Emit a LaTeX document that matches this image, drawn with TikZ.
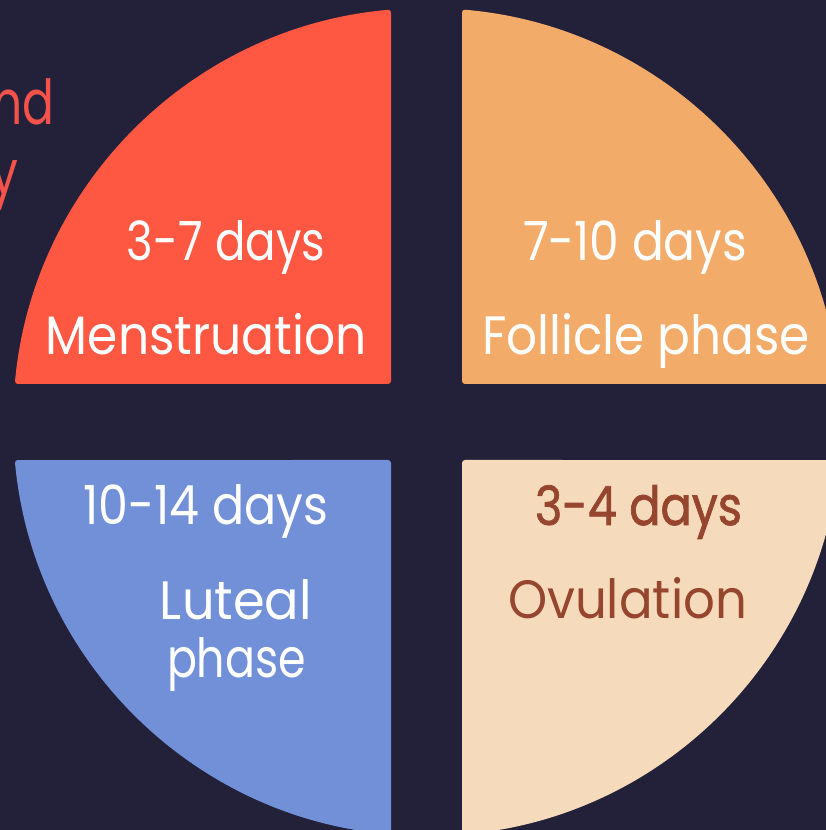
\documentclass[tikz,border=0pt]{standalone}
\usepackage{fontspec}
\setmainfont{Poppins}
\newfontfamily\semib{Poppins}[FakeBold=1.4]
\usepackage{graphicx}
\definecolor{bgc}{HTML}{23213A}
\definecolor{redc}{HTML}{FF5842}
\definecolor{orc}{HTML}{F3AB6A}
\definecolor{crc}{HTML}{F5DBBB}
\definecolor{blc}{HTML}{7290D8}
\definecolor{brc}{HTML}{96452F}
\definecolor{rtc}{HTML}{F4524B}
\newcommand\fitw[2]{\resizebox{#1pt}{\height}{#2}}
\tikzset{
  lbl/.style={inner sep=0pt, anchor=base, text=white, font=\fontsize{54}{60}\selectfont},
  cut/.style={inner sep=0pt, anchor=base east, text=rtc, font=\fontsize{62}{68}\selectfont},
  piece/.style={rounded corners=3pt}
}
\begin{document}
\begin{tikzpicture}[x=1pt,y=1pt]
\useasboundingbox (0,0) rectangle (826,830);
\fill[bgc] (0,0) rectangle (826,830);
\begin{scope}
\clip (0,0) rectangle (826,830);
% top-left
\fill[redc, piece] (391,446) -- ([shift={(427,408)}]174.73:414) arc[start angle=174.73, end angle=94.99, radius=414] -- cycle;
% top-right
\fill[orc, piece] (462,446) -- ([shift={(427,408)}]85.15:414) arc[start angle=85.15, end angle=5.27, radius=414] -- cycle;
% bottom-left
\fill[blc, piece] (391,370) -- ([shift={(427,408)}]185.27:414) arc[start angle=185.27, end angle=265.01, radius=414] -- cycle;
% bottom-right
\fill[crc, piece] (462,370) -- ([shift={(427,408)}]-5.27:414) arc[start angle=-5.27, end angle=-85.15, radius=414] -- cycle;
% cut-off title text at the left edge
\node[cut] (tnd) at (55,705) {\scalebox{0.76}[1]{nd}};
\node[cut] (ty) at (19,635) {\scalebox{0.8}[1]{y}};
\end{scope}
\node[lbl] (d1) at (226,569) {\fitw{198}{3-7 days}};
\node[lbl] (n1) at (206.5,475) {\fitw{321}{Menstruation}};
\node[lbl] (d2) at (635,569) {\fitw{224}{7-10 days}};
\node[lbl] (n2) at (646,475) {\fitw{328}{Follicle phase}};
\node[lbl] (d3) at (205.5,305) {\fitw{245}{10-14 days}};
\node[lbl] (n3a) at (236,210) {\fitw{152}{Luteal}};
\node[lbl] (n3b) at (236.5,152) {\fitw{139}{phase}};
\node[lbl, text=brc] (d4) at (638.5,305) {\fitw{207}{\semib 3-4 days}};
\node[lbl, text=brc] (n4) at (627.5,211) {\fitw{239}{Ovulation}};
\end{tikzpicture}
\end{document}
